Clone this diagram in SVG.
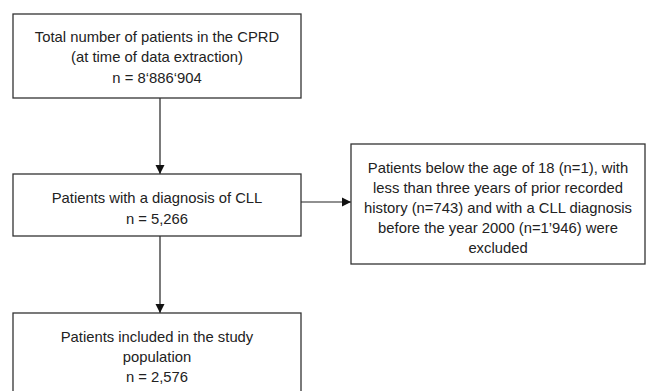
<svg xmlns="http://www.w3.org/2000/svg" width="646" height="391" viewBox="0 0 646 391">
<style>
.box{fill:#fff;stroke:#333;stroke-width:1.3}
.t{font-family:"Liberation Sans",Arial,sans-serif;font-size:14.8px;fill:#222;text-anchor:middle;dominant-baseline:central}
.c{stroke:#222;stroke-width:1.2;fill:none}
</style>
<defs>
<marker id="ah" markerWidth="10" markerHeight="10" refX="9" refY="5" orient="auto" markerUnits="userSpaceOnUse">
<path d="M0,0.5 L9,5 L0,9.5 Z" fill="#111"/>
</marker>
</defs>
<rect width="646" height="391" fill="#fff"/>
<g id="connectors">
<line class="c" x1="160" y1="98" x2="160" y2="174" marker-end="url(#ah)"/>
<line class="c" x1="301" y1="202" x2="351" y2="202" marker-end="url(#ah)"/>
<line class="c" x1="160" y1="236" x2="160" y2="313" marker-end="url(#ah)"/>
</g>
<g id="n1">
<rect class="box" x="13" y="14" width="288" height="84"/>
<text class="t" x="157" y="37">Total number of patients in the CPRD</text>
<text class="t" x="157" y="57">(at time of data extraction)</text>
<text class="t" x="157" y="78">n = 8‘886‘904</text>
</g>
<g id="n2">
<rect class="box" x="13" y="174" width="288" height="62"/>
<text class="t" x="157" y="198">Patients with a diagnosis of CLL</text>
<text class="t" x="157" y="219">n = 5,266</text>
</g>
<g id="n3">
<rect class="box" x="351" y="144" width="294" height="120"/>
<text class="t" x="498" y="168">Patients below the age of 18 (n=1), with</text>
<text class="t" x="498" y="188">less than three years of prior recorded</text>
<text class="t" x="498" y="208">history (n=743) and with a CLL diagnosis</text>
<text class="t" x="498" y="228">before the year 2000 (n=1’946) were</text>
<text class="t" x="498" y="248">excluded</text>
</g>
<g id="n4">
<rect class="box" x="13" y="313" width="288" height="90"/>
<text class="t" x="157" y="337">Patients included in the study</text>
<text class="t" x="157" y="357">population</text>
<text class="t" x="157" y="377">n = 2,576</text>
</g>
</svg>
